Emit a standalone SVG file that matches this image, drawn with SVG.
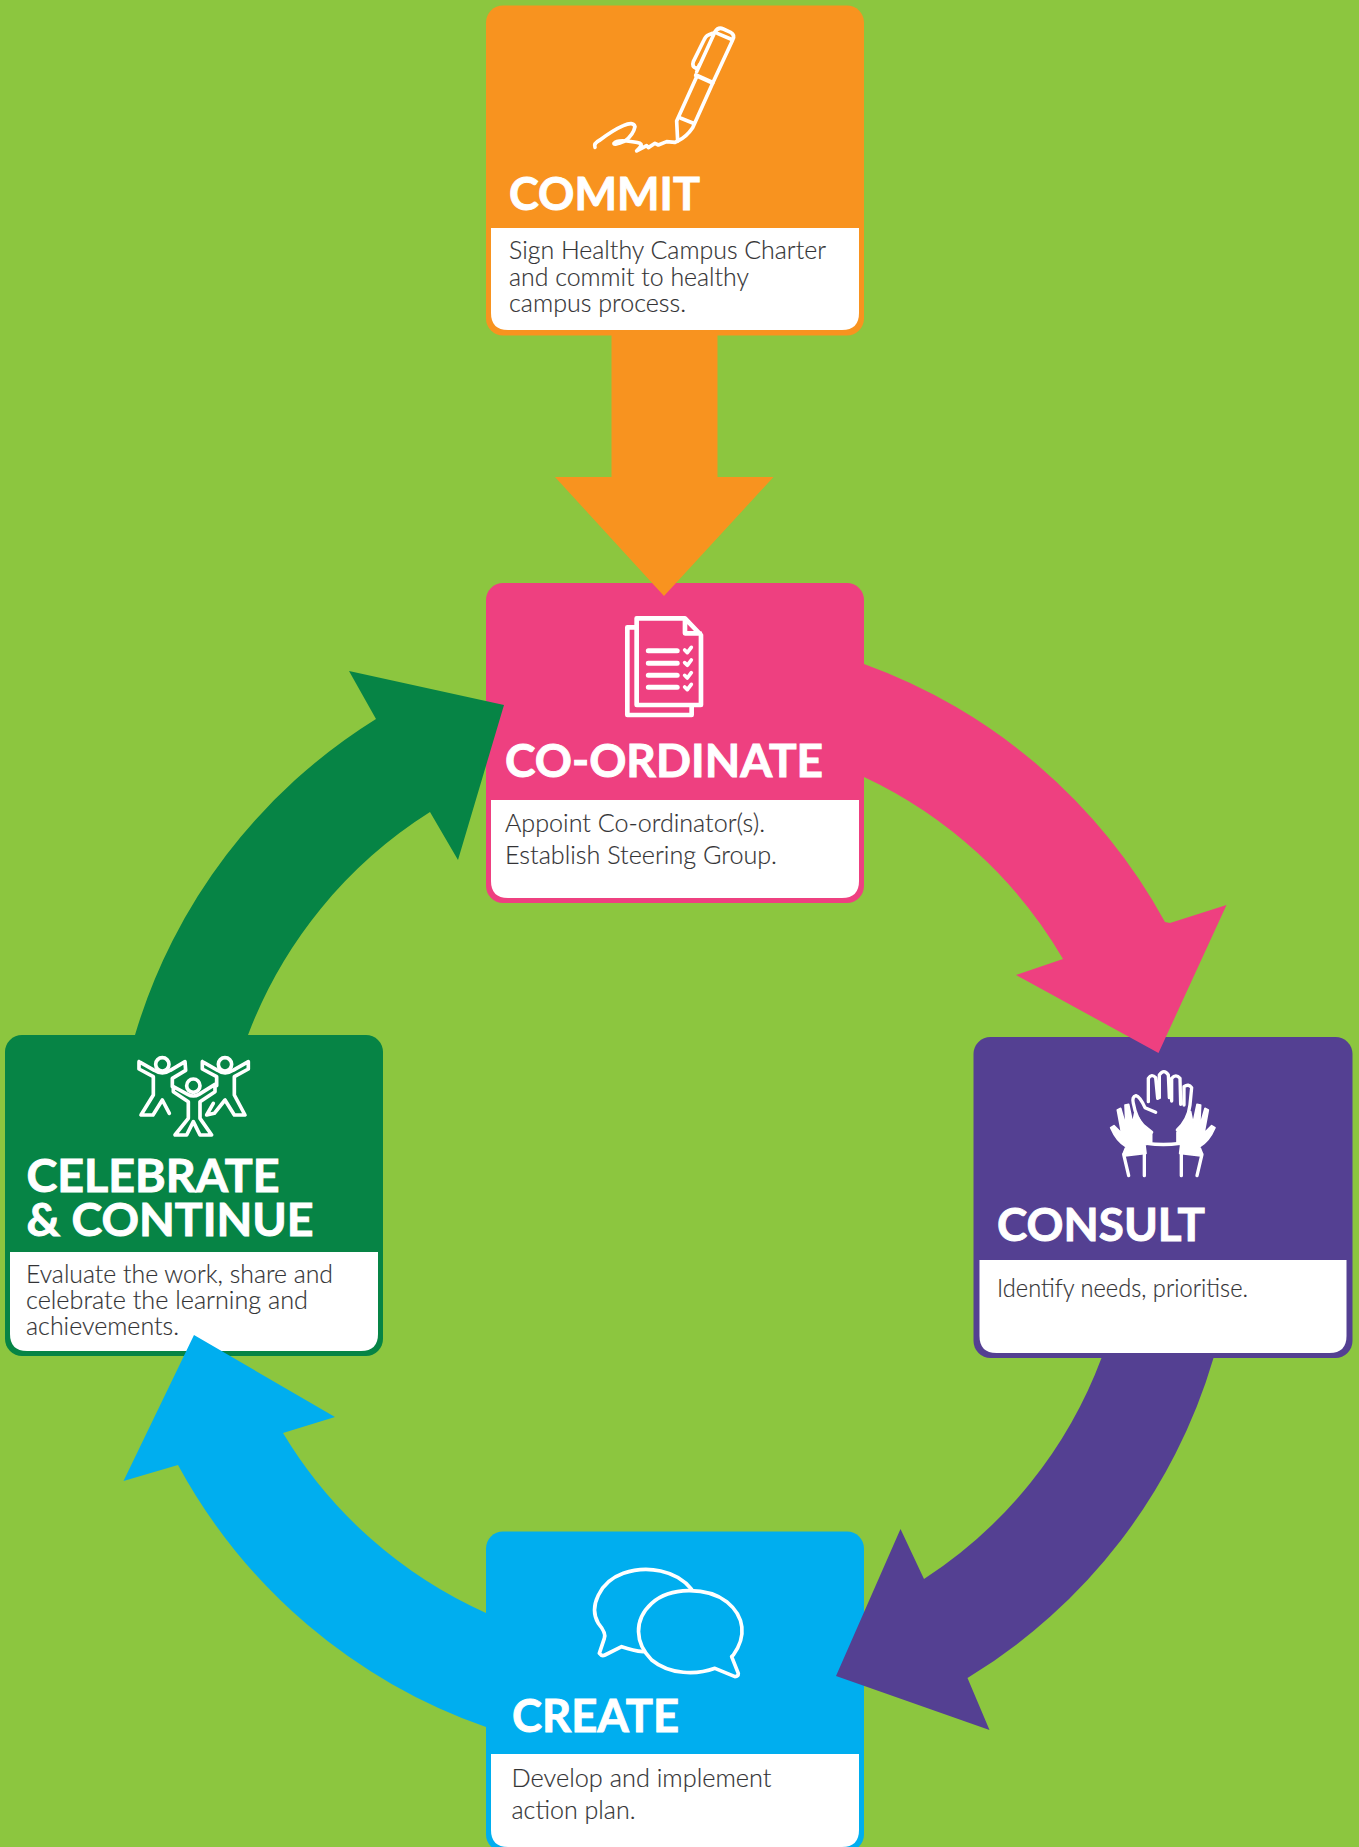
<svg xmlns="http://www.w3.org/2000/svg" width="1359" height="1847" viewBox="0 0 1359 1847">
<style>
.h{font-family:"Lato","Liberation Sans",sans-serif;font-weight:700;font-size:45px;fill:#fff;stroke:#fff;stroke-width:.9px}
.b{font-family:"Lato","Liberation Sans",sans-serif;font-weight:300;font-size:25px;fill:#333335;stroke:#333335;stroke-width:.15px}
.w{fill:#fff}
.i{fill:none;stroke:#fff;stroke-linecap:round;stroke-linejoin:round}
</style>
<rect width="1359" height="1847" fill="#8cc63f"/>
<g id="commit">
<rect x="486" y="5.500" width="378" height="330" rx="17" fill="#f8931f"/>
<path class="w" d="M491 228H859V313Q859 330 842 330H508Q491 330 491 313Z"/>
<g transform="translate(580 15) scale(.3333)">
<path class="i" stroke-width="11" d="M293 378L290 318L350 185M338 338Q320 365 293 378M338 338L398 205M303 310L340 325M400 200L458 75Q466 60 452 52L430 42Q415 35 405 50L350 170M412 55L452 72M398 55L385 60Q378 62 372 75L340 140Q335 155 348 160Q355 160 358 150"/>
<path class="i" stroke-width="13" d="M348 181L398 203"/>
<path class="i" stroke-width="11" d="M45 397Q40 385 60 375Q100 345 130 332Q160 318 165 335Q160 360 135 378Q100 392 102 385Q110 375 140 378Q165 380 180 385Q190 390 170 408L200 392L205 398L225 385L235 390L260 380L285 382L293 378"/>
</g>
<text class="h" x="509" y="209.500" textLength="191" lengthAdjust="spacingAndGlyphs">COMMIT</text>
<text class="b" x="509" y="259" textLength="317" lengthAdjust="spacingAndGlyphs">Sign Healthy Campus Charter</text>
<text class="b" x="509" y="286" textLength="240" lengthAdjust="spacingAndGlyphs">and commit to healthy</text>
<text class="b" x="509" y="312" textLength="177" lengthAdjust="spacingAndGlyphs">campus process.</text>
</g>
<g id="coordinate">
<rect x="486" y="583" width="378" height="320" rx="17" fill="#ee4080"/>
<path class="w" d="M491 800H859V881Q859 898 842 898H508Q491 898 491 881Z"/>
<g transform="translate(470 570) scale(.3333)">
<path class="i" stroke-width="14" d="M500 145H645L693 195V405H500ZM645 150V190H690M497 172H472V435H665V408"/>
<path class="i" stroke-width="15" d="M535 242H622M535 280H622M535 316H622M535 352H622"/>
<path class="i" stroke-width="11" d="M644 240L652 248L664 232M644 278L652 286L664 270M644 316L652 324L664 308M644 351L652 359L664 343"/>
</g>
<text class="h" x="505" y="776.500" textLength="318" lengthAdjust="spacingAndGlyphs">CO-ORDINATE</text>
<text class="b" x="505" y="832" textLength="260" lengthAdjust="spacingAndGlyphs">Appoint Co-ordinator(s).</text>
<text class="b" x="505" y="864" textLength="272" lengthAdjust="spacingAndGlyphs">Establish Steering Group.</text>
</g>
<g id="consult">
<rect x="973.500" y="1037" width="379" height="321" rx="17" fill="#544092"/>
<path class="w" d="M979.500 1260H1346.500V1336Q1346.500 1353 1329.500 1353H996.500Q979.500 1353 979.500 1336Z"/>
<g transform="translate(1090 1055) scale(.3333)">
<path class="i" stroke-width="10" d="M197 172L165 158Q150 125 138 122Q125 125 130 145Q138 190 160 212L185 232M175 140L175 70Q185 55 197 68L203 130M208 128L208 60Q222 40 235 60L238 128M245 138L245 70Q258 55 270 70L272 148M282 150L282 95Q296 85 305 98L300 150Q295 195 262 225M170 265Q220 272 270 265"/>
<g id="left-hand"><path fill="#fff" stroke="#fff" stroke-width="5" stroke-linejoin="round" d="M62 218L72 212L95 235L82 165L92 160L108 215L105 150L116 148L128 205L135 170L160 215L185 232V262L165 270L168 295L105 303L100 295L108 275Q80 260 62 218Z"/>
<path class="i" stroke-width="10" d="M101 298L116 362M163 295V362"/></g>
<g transform="translate(437 0) scale(-1 1)"><path fill="#fff" stroke="#fff" stroke-width="5" stroke-linejoin="round" d="M62 218L72 212L95 235L82 165L92 160L108 215L105 150L116 148L128 205L135 170L160 215L176 232V262L165 270L168 295L105 303L100 295L108 275Q80 260 62 218Z"/>
<path class="i" stroke-width="10" d="M101 298L116 362M163 295V362"/></g>
</g>
<text class="h" x="997" y="1240.500" textLength="208" lengthAdjust="spacingAndGlyphs">CONSULT</text>
<text class="b" x="997" y="1297" textLength="251" lengthAdjust="spacingAndGlyphs">Identify needs, prioritise.</text>
</g>
<g id="create">
<rect x="486" y="1531.500" width="378" height="320" rx="17" fill="#00aeef"/>
<path class="w" d="M491 1754H859V1830Q859 1847 842 1847H508Q491 1847 491 1830Z"/>
<g transform="translate(470 1520) scale(.3333)">
<path class="i" stroke-width="11" d="M665 208C620 150 530 135 460 160C390 185 355 260 385 310Q410 340 403 355L388 400Q395 410 405 405L455 380Q490 392 520 395"/>
<path class="i" stroke-width="11" d="M790 405C830 350 825 290 770 245C710 200 600 200 545 250C490 300 495 370 545 420C600 465 680 465 735 445L795 470Q805 470 805 460L785 410Z"/>
</g>
<text class="h" x="512" y="1731.500" textLength="167" lengthAdjust="spacingAndGlyphs">CREATE</text>
<text class="b" x="511.500" y="1787" textLength="260" lengthAdjust="spacingAndGlyphs">Develop and implement</text>
<text class="b" x="511.500" y="1819" textLength="124" lengthAdjust="spacingAndGlyphs">action plan.</text>
</g>
<g id="celebrate">
<rect x="5" y="1035" width="378" height="321" rx="17" fill="#068445"/>
<path class="w" d="M10 1252H378V1334Q378 1351 361 1351H27Q10 1351 10 1334Z"/>
<g transform="translate(125 1045) scale(.3333)">
<g class="i" stroke-width="11">
<circle cx="112" cy="58" r="20"/><circle cx="300" cy="58" r="20"/><circle cx="205" cy="122" r="20"/>
<path d="M42 50L42 72L85 95V150L48 210H84L112 165L133 205M42 50L88 76Q112 92 136 76L180 50L182 76L142 100V125"/>
<path d="M232 50V72L275 95V122M232 50L278 76Q300 92 324 76L370 50V72L328 95V150L360 210H328L300 165L268 205L245 210L265 175"/>
<path d="M145 125V140L190 170V220L150 270H185L205 230L225 270H260L225 220V170L270 140V118L222 148Q205 158 188 148Z"/>
</g>
</g>
<text class="h" x="26.500" y="1191.500" textLength="253" lengthAdjust="spacingAndGlyphs">CELEBRATE</text>
<text class="h" x="26.500" y="1236" textLength="287" lengthAdjust="spacingAndGlyphs">&amp; CONTINUE</text>
<text class="b" x="26" y="1283" textLength="307" lengthAdjust="spacingAndGlyphs">Evaluate the work, share and</text>
<text class="b" x="26" y="1309" textLength="282" lengthAdjust="spacingAndGlyphs">celebrate the learning and</text>
<text class="b" x="26" y="1335" textLength="153" lengthAdjust="spacingAndGlyphs">achievements.</text>
</g>
<g id="connectors">
<path fill="#f8931f" d="M611.500 335H717.500V477H773.500L664 596L555 477H611.500Z"/>
<path fill="#ee4080" d="M864 664A559 559 0 0 1 1165 922L1170 923L1226.500 905L1158.500 1053L1016 975L1063 959A452 452 0 0 0 864 777Z"/>
<path fill="#544092" d="M1213.500 1358A559 559 0 0 1 967.500 1678L989.500 1730L836 1676L900.500 1529L924 1579A452 452 0 0 0 1101.500 1358Z"/>
<path fill="#00aeef" d="M486 1727A559 559 0 0 1 178 1465L123.500 1481L194 1335L335 1417L283 1433A452 452 0 0 0 486 1613Z"/>
<path fill="#068445" d="M135 1035A559 559 0 0 1 376 719L349 671L504 705L458 860L430 812A452 452 0 0 0 248 1035Z"/>
</g>
</svg>
